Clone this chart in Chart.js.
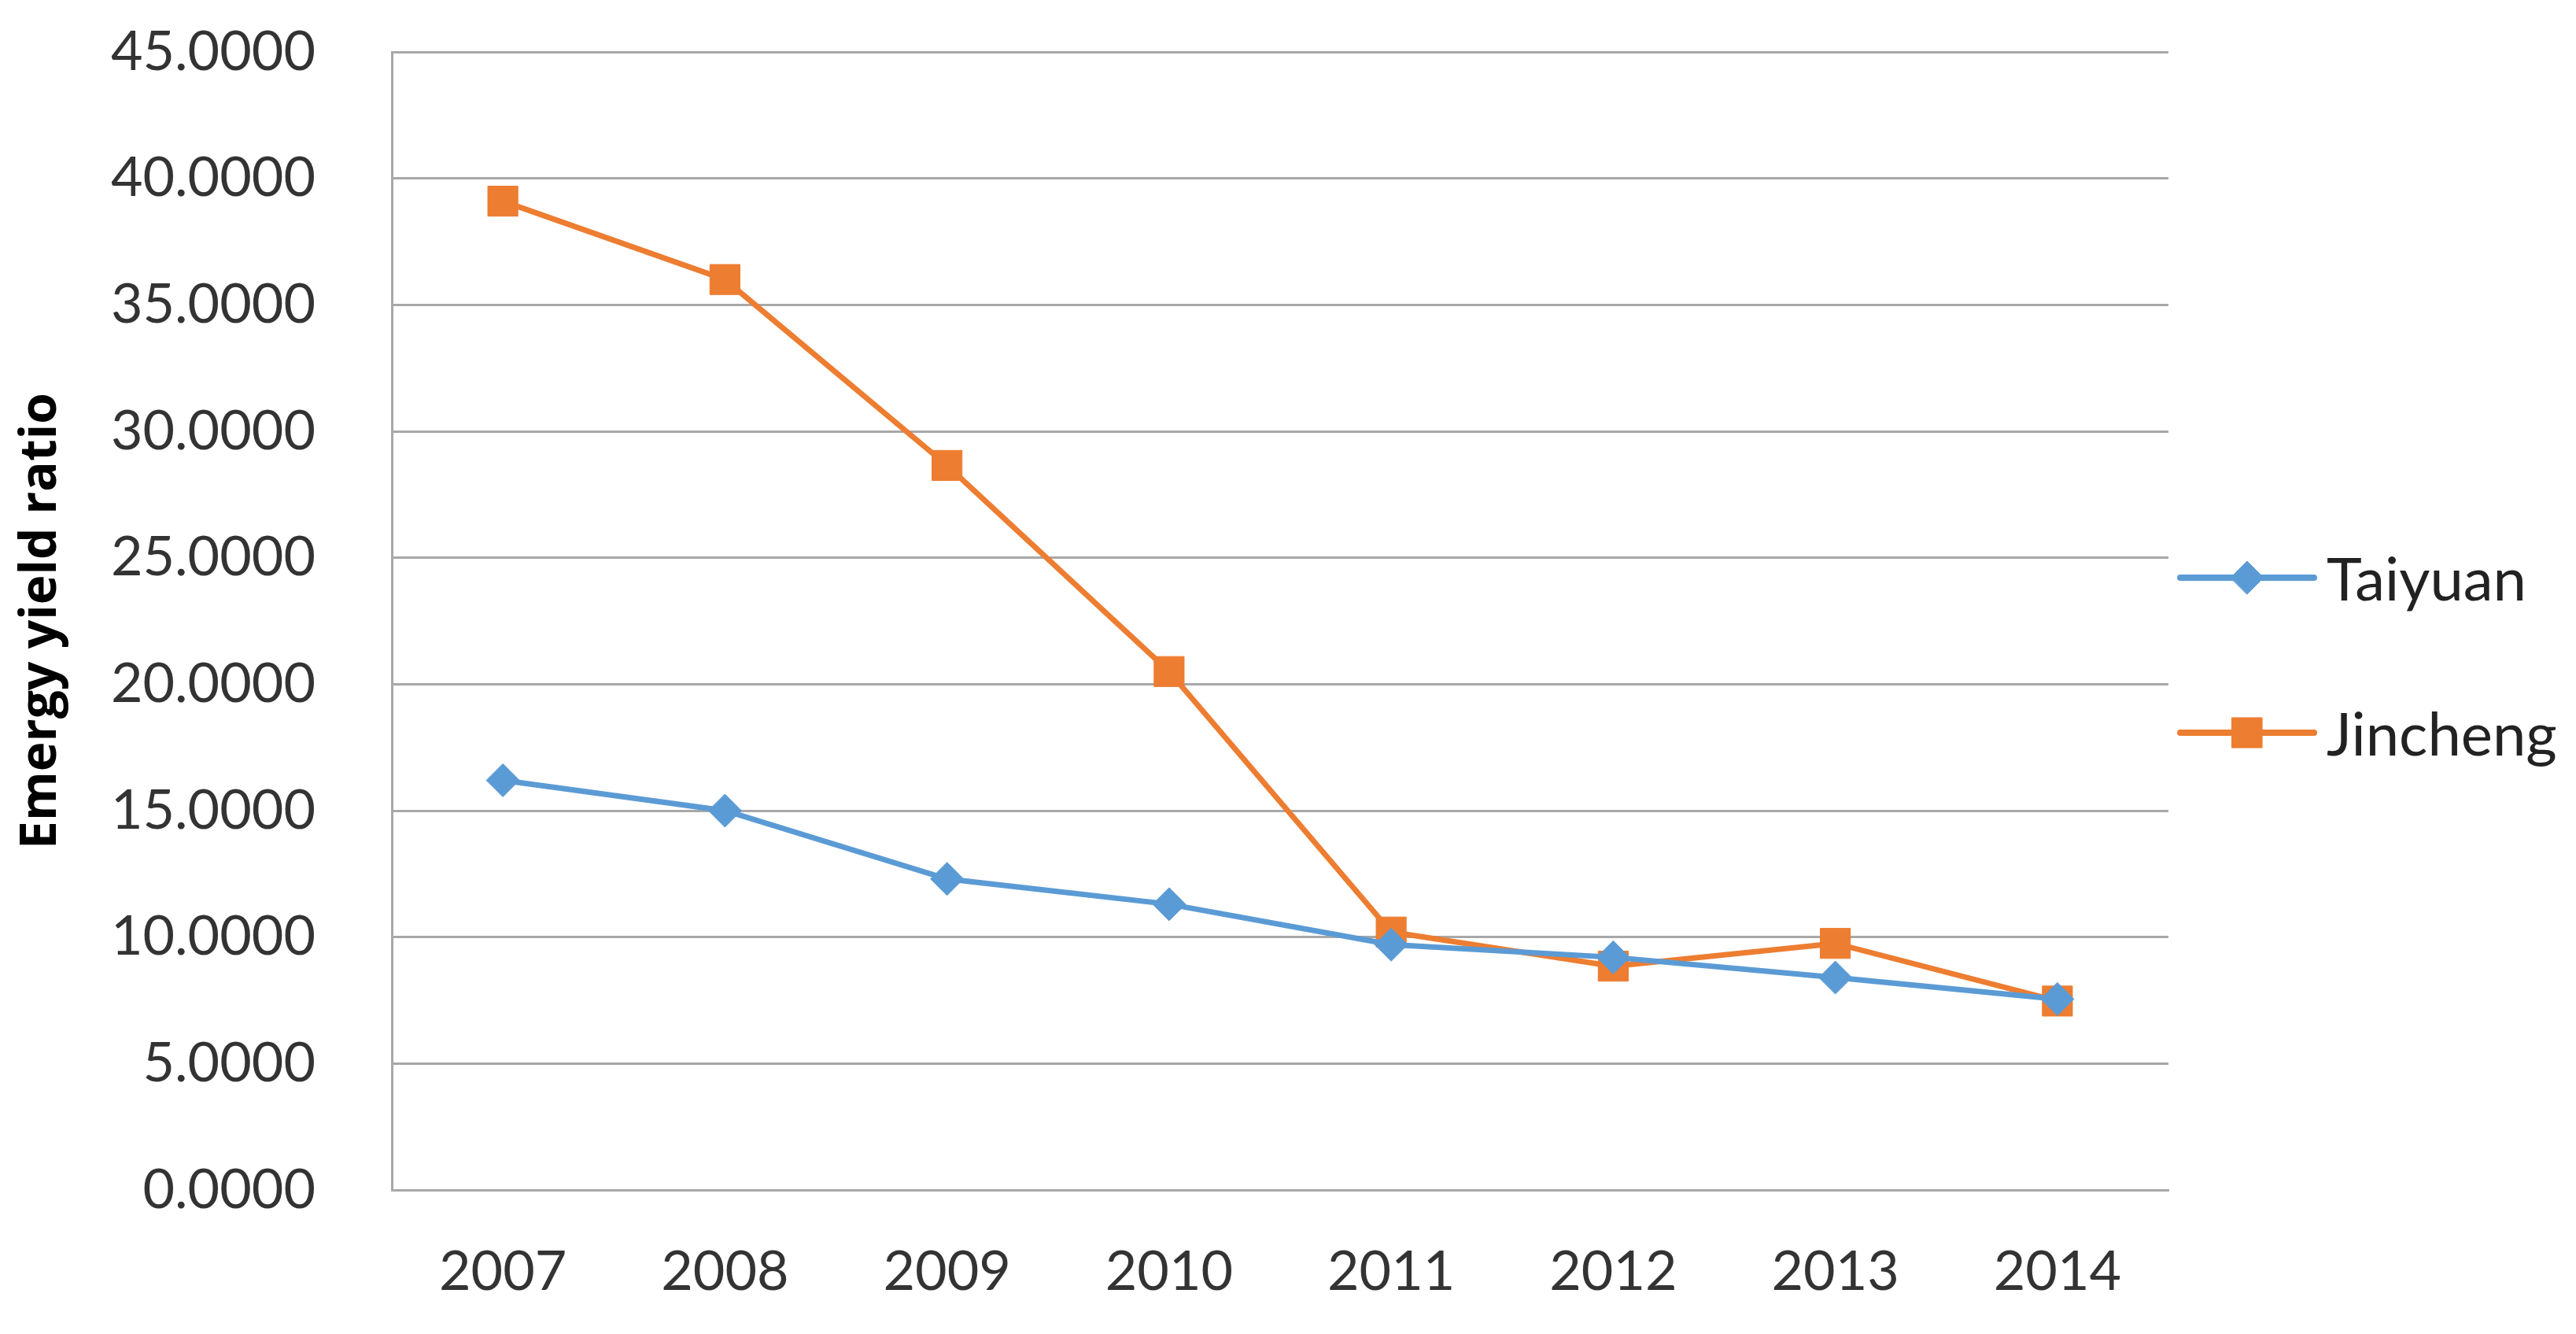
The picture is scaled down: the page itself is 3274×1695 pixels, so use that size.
<!DOCTYPE html>
<html>
<head>
<meta charset="utf-8">
<script src="https://cdn.jsdelivr.net/npm/chart.js@4.4.1/dist/chart.umd.min.js"></script>
<style>
  html, body { margin: 0; padding: 0; background: #fff; }
  #wrap { width: 3274px; height: 1695px; position: relative; }
</style>
</head>
<body>
<div id="wrap"><canvas id="chart"></canvas></div>
<script>
// data
const years = ['2007', '2008', '2009', '2010', '2011', '2012', '2013', '2014'];
const taiyuan = [16.2, 15.0, 12.3, 11.3, 9.7, 9.2, 8.4, 7.55];
const jincheng = [39.1, 36.0, 28.65, 20.5, 10.2, 8.85, 9.75, 7.47];
const seriesNames = ['Taiyuan', 'Jincheng'];
const yTicks = [0, 5, 10, 15, 20, 25, 30, 35, 40, 45];

const BLUE = '#5b9bd5';
const ORANGE = '#ed7d31';
const GRID = '#a8a8a8';
const FONT = 'Lato, "Open Sans", sans-serif';

// legend on the right, line + marker like the spreadsheet one
const sideLegend = {
  id: 'sideLegend',
  afterDraw(chart) {
    const ctx = chart.ctx;
    const area = chart.chartArea;
    const mid = (area.top + area.bottom) / 2;
    const x0 = area.right + 15;
    ctx.save();
    chart.data.datasets.forEach((ds, i) => {
      const y = mid - 55 + i * 197;
      ctx.strokeStyle = ds.borderColor;
      ctx.lineWidth = 8;
      ctx.lineCap = 'round';
      ctx.beginPath();
      ctx.moveTo(x0, y);
      ctx.lineTo(x0 + 170, y);
      ctx.stroke();
      ctx.fillStyle = ds.backgroundColor;
      ctx.lineWidth = 1;
      Chart.helpers.drawPoint(ctx, {
        pointStyle: ds.pointStyle,
        radius: ds.pointRadius,
        borderWidth: 1
      }, x0 + 85, y);
      ctx.fillStyle = '#222';
      ctx.font = '76px ' + FONT;
      ctx.textBaseline = 'middle';
      ctx.textAlign = 'left';
      ctx.fillText(ds.label, x0 + 186, y + 4);
    });
    ctx.restore();
  }
};

const ctx = document.getElementById('chart').getContext('2d');
new Chart(ctx, {
  type: 'line',
  data: {
    labels: years,
    datasets: [
      {
        label: seriesNames[0],
        data: taiyuan,
        borderColor: BLUE,
        backgroundColor: BLUE,
        borderWidth: 7,
        pointStyle: 'rectRot',
        pointRadius: 21,
        pointBorderWidth: 1,
        tension: 0
      },
      {
        label: seriesNames[1],
        data: jincheng,
        borderColor: ORANGE,
        backgroundColor: ORANGE,
        borderWidth: 7,
        pointStyle: 'rect',
        pointRadius: 27,
        pointBorderWidth: 1,
        tension: 0
      }
    ]
  },
  options: {
    responsive: true,
    maintainAspectRatio: false,
    animation: false,
    layout: { padding: { top: 66, right: 518, bottom: 0, left: 0 } },
    plugins: {
      legend: { display: false },
      tooltip: { enabled: false }
    },
    scales: {
      x: {
        offset: true,
        grid: { display: false, drawTicks: false },
        border: { display: true, color: GRID, width: 3 },
        ticks: {
          color: '#333',
          font: { family: FONT, size: 70 },
          padding: 62,
          maxRotation: 0
        },
        afterFit: (axis) => { axis.height = 183; }
      },
      y: {
        min: 0,
        max: 45,
        afterBuildTicks: (axis) => { axis.ticks = yTicks.map(v => ({ value: v })); },
        // invisible tick marks keep the labels away from the axis
        grid: { color: GRID, lineWidth: 3, drawTicks: true, tickLength: 80, tickColor: 'rgba(0,0,0,0)' },
        border: { display: true, color: GRID, width: 3 },
        ticks: {
          color: '#333',
          font: { family: FONT, size: 70 },
          padding: 17,
          callback: (v) => Number(v).toFixed(4)
        },
        title: {
          display: true,
          text: 'Emergy yield ratio',
          color: '#000',
          font: { family: '"Open Sans", Lato, sans-serif', size: 64, weight: 'bold' },
          padding: { top: 14, bottom: 0 }
        },
        afterFit: (axis) => { axis.width = 498; }
      }
    }
  },
  plugins: [sideLegend]
});
</script>
</body>
</html>
